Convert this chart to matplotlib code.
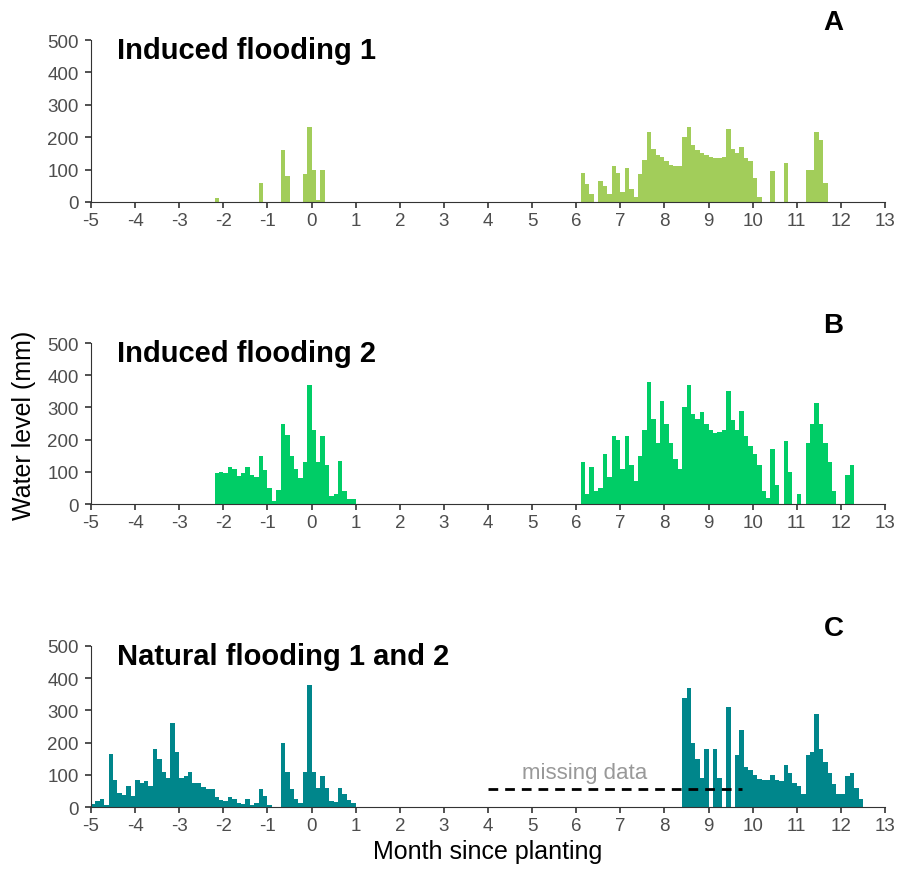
import numpy as np
import matplotlib.pyplot as plt

plt.rcParams['font.family'] = ['Liberation Sans', 'DejaVu Sans']
plt.rcParams['axes.unicode_minus'] = False

# bins of 0.1 month, each segment: start month + consecutive values (mm)
step = 0.1

# A - induced flooding 1
a_starts = [-2.2, -1.2, -0.7, -0.2, 6.1]
a_vals = [
    [12],
    [60],
    [160, 80],
    [85, 230, 100, 5, 100],
    [90, 55, 25, 0, 65, 50, 25, 110, 90,
     30, 105, 40, 15, 85, 130, 215, 165, 145, 140,
     125, 115, 110, 110, 200, 230, 175, 160, 150, 145,
     140, 135, 135, 140, 225, 165, 150, 170, 135, 125,
     75, 15, 0, 0, 95, 0, 0, 120, 0, 0,
     0, 0, 100, 100, 215, 190, 60],
]

# B - induced flooding 2
b_starts = [-2.2, 6.1]
b_vals = [
    [95, 100, 95, 115, 110, 88, 95, 115, 90, 85,
     150, 105, 50, 10, 45, 250, 215, 150, 110, 80,
     130, 370, 230, 130, 210, 120, 25, 30, 135, 40,
     15, 15],
    [130, 30, 115, 40, 50, 155, 85, 210, 200,
     110, 210, 120, 70, 150, 230, 380, 265, 190, 320,
     250, 190, 140, 110, 300, 370, 280, 265, 285, 250,
     230, 220, 225, 230, 350, 260, 230, 290, 210, 180,
     155, 120, 40, 20, 170, 60, 0, 195, 100, 0,
     30, 0, 190, 250, 315, 250, 190, 130, 40, 0,
     0, 90, 120],
]

# C - natural flooding 1 and 2
c_starts = [-5.0, 8.4]
c_vals = [
    [8, 20, 25, 5, 165, 85, 45, 36, 65, 35,
     85, 75, 80, 65, 180, 150, 110, 90, 260, 170,
     90, 95, 110, 75, 75, 62, 55, 55, 30, 21,
     18, 32, 25, 14, 10, 25, 5, 12, 55, 35,
     5, 0, 0, 200, 110, 55, 25, 12, 110, 380,
     110, 60, 95, 60, 18, 15, 60, 40, 22, 12],
    [340, 370, 200, 150, 90, 180, 0, 180, 90, 0,
     310, 0, 160, 240, 125, 115, 100, 88, 84, 85,
     100, 85, 80, 130, 105, 75, 65, 40, 160, 170,
     290, 180, 140, 105, 70, 40, 40, 95, 105, 60,
     25],
]

missing_x = [4.0, 9.75]
missing_y = 55

panels = [
    ('A', 'Induced flooding 1', '#A2CD5A', a_starts, a_vals, [0.1007, 0.7688, 0.8783, 0.1845]),
    ('B', 'Induced flooding 2', '#00CD66', b_starts, b_vals, [0.1007, 0.4248, 0.8783, 0.1834]),
    ('C', 'Natural flooding 1 and 2', '#00868B', c_starts, c_vals, [0.1007, 0.0797, 0.8783, 0.1834]),
]

fig = plt.figure(figsize=(9.04, 8.78), dpi=100)

axes = []
for letter, title, col, starts, vals, rect in panels:
    ax = fig.add_axes(rect)
    x = np.concatenate([s + step * np.arange(len(v)) for s, v in zip(starts, vals)])
    y = np.concatenate([np.array(v, float) for v in vals])
    ax.bar(x, y, width=step, align='edge', color=col, linewidth=0)
    ax.set_xlim(-5, 13)
    ax.set_ylim(0, 500)
    ax.set_xticks(range(-5, 14))
    ax.set_yticks(range(0, 501, 100))
    for s in ['top', 'right']:
        ax.spines[s].set_visible(False)
    for s in ['left', 'bottom']:
        ax.spines[s].set_color('#333333')
        ax.spines[s].set_linewidth(0.8)
    ax.tick_params(axis='both', length=4, width=1.2, color='#333333',
                   labelcolor='#4d4d4d', labelsize=13.5)
    ax.tick_params(axis='x', pad=3)
    ax.tick_params(axis='y', pad=5)
    ax.text(0.033, 0.94, title, transform=ax.transAxes, fontsize=21,
            fontweight='bold', va='center', ha='left')
    ax.text(0.935, 1.11, letter, transform=ax.transAxes, fontsize=20,
            fontweight='bold', va='center', ha='center')
    axes.append(ax)

axc = axes[2]
axc.plot(missing_x, [missing_y, missing_y], color='black', lw=2, ls=(0, (3.5, 2.5)))
axc.text(6.2, 107, 'missing data', color='#999999', fontsize=16, ha='center', va='center')
axc.set_xlabel('Month since planting', fontsize=18, labelpad=4)

fig.text(0.026, 0.515, 'Water level (mm)', rotation=90, fontsize=18,
         va='center', ha='center')

fig.savefig('out.png', dpi=100)
